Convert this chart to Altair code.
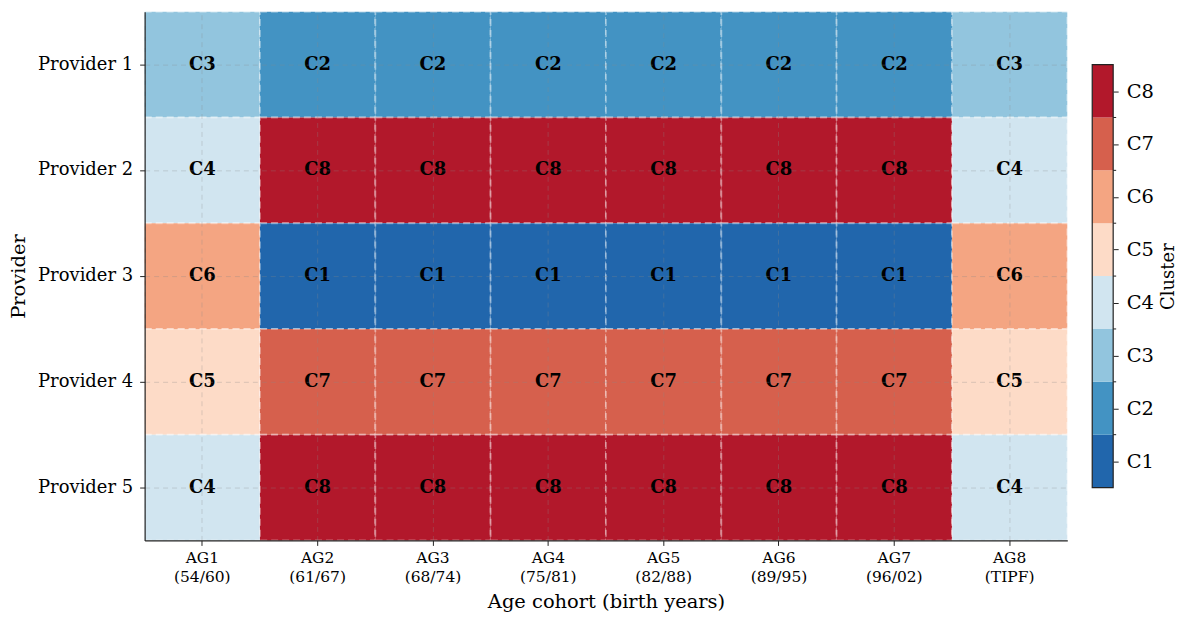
import altair as alt
import pandas as pd

providers = ["Provider 1", "Provider 2", "Provider 3", "Provider 4", "Provider 5"]
cohorts = ["AG1|(54/60)", "AG2|(61/67)", "AG3|(68/74)", "AG4|(75/81)",
           "AG5|(82/88)", "AG6|(89/95)", "AG7|(96/02)", "AG8|(TIPF)"]
cluster_names = ["C1", "C2", "C3", "C4", "C5", "C6", "C7", "C8"]
# cluster number assigned to each provider (rows) and age cohort (columns)
assignments = [
    [3, 2, 2, 2, 2, 2, 2, 3],
    [4, 8, 8, 8, 8, 8, 8, 4],
    [6, 1, 1, 1, 1, 1, 1, 6],
    [5, 7, 7, 7, 7, 7, 7, 5],
    [4, 8, 8, 8, 8, 8, 8, 4],
]
palette = ["#2166ac", "#4393c3", "#92c5de", "#d1e5f0",
           "#fddbc7", "#f4a582", "#d6604d", "#b2182b"]

FONT = "DejaVu Serif"

rows = []
for p, row in zip(providers, assignments):
    for c, k in zip(cohorts, row):
        rows.append({"provider": p, "cohort": c, "cluster": f"C{k}"})
cells = pd.DataFrame(rows)

color_scale = alt.Scale(domain=cluster_names, range=palette)

base = alt.Chart(cells).encode(
    x=alt.X("cohort:N", sort=cohorts,
            scale=alt.Scale(paddingInner=0, paddingOuter=0),
            axis=alt.Axis(title="Age cohort (birth years)",
                          labelExpr="split(datum.value, '|')",
                          labelAngle=0, labelFontSize=15.5, labelLineHeight=19,
                          labelPadding=5,
                          titleFontSize=19.5, titlePadding=8,
                          grid=True, gridDash=[5, 4], gridColor="#888888",
                          gridOpacity=0.3, zindex=1)),
    y=alt.Y("provider:N", sort=providers,
            scale=alt.Scale(paddingInner=0, paddingOuter=0),
            axis=alt.Axis(title="Provider", labelFontSize=18,
                          labelPadding=7,
                          titleFontSize=19.5, titlePadding=9,
                          grid=True, gridDash=[5, 4], gridColor="#888888",
                          gridOpacity=0.3, zindex=1)),
)

tiles = base.mark_rect(stroke="white", strokeDash=[7, 4], strokeWidth=2,
                       strokeOpacity=0.35).encode(
    color=alt.Color("cluster:N", scale=color_scale, legend=None)
)
labels = base.mark_text(font=FONT, fontSize=18, fontWeight="bold",
                        color="black").encode(text="cluster:N")

heatmap = (tiles + labels).properties(width=925, height=530)

# discrete colour bar
bar_df = pd.DataFrame({
    "cluster": cluster_names,
    "lo": list(range(len(cluster_names))),
    "hi": list(range(1, len(cluster_names) + 1)),
})
bounds_df = pd.DataFrame({"b": list(range(1, len(cluster_names)))})

cb_y = alt.Scale(domain=[-1, len(cluster_names) + 1], nice=False, zero=False)
cb_axis = alt.Axis(orient="right", title="Cluster",
                   values=[i + 0.5 for i in range(len(cluster_names))],
                   labelExpr="'C' + (floor(datum.value) + 1)",
                   domain=False, grid=False, tickSize=5, labelFontSize=19.5,
                   titleFontSize=18, titleAngle=270, titleBaseline="top",
                   titlePadding=6, tickColor="#222222", labelPadding=8)

segments = alt.Chart(bar_df).mark_rect().encode(
    x=alt.value(0), x2=alt.value(21),
    y=alt.Y("lo:Q", scale=cb_y, axis=cb_axis), y2="hi:Q",
    color=alt.Color("cluster:N", scale=color_scale, legend=None),
)
outline = alt.Chart(bar_df).mark_rect(fillOpacity=0, stroke="#222222",
                                      strokeWidth=1.2).encode(
    x=alt.value(0), x2=alt.value(21),
    y=alt.Y("min(lo):Q", scale=cb_y), y2="max(hi):Q",
)
minor = alt.Chart(bounds_df).mark_rule(color="#222222").encode(
    x=alt.value(21), x2=alt.value(24),
    y=alt.Y("b:Q", scale=cb_y),
)
colorbar = (segments + outline + minor).properties(width=21, height=530)

chart = alt.hconcat(heatmap, colorbar, spacing=23).properties(
    padding={"left": 8, "top": 10, "right": 5, "bottom": 5}
).configure(font=FONT).configure_view(stroke=None).configure_axis(
    labelFont=FONT, titleFont=FONT, labelColor="black", titleColor="black",
    titleFontWeight="normal", domainColor="#222222", domainWidth=1.2,
    tickColor="#222222", tickSize=5,
)

chart.save("out.html", embed_options={"renderer": "svg", "actions": False})
